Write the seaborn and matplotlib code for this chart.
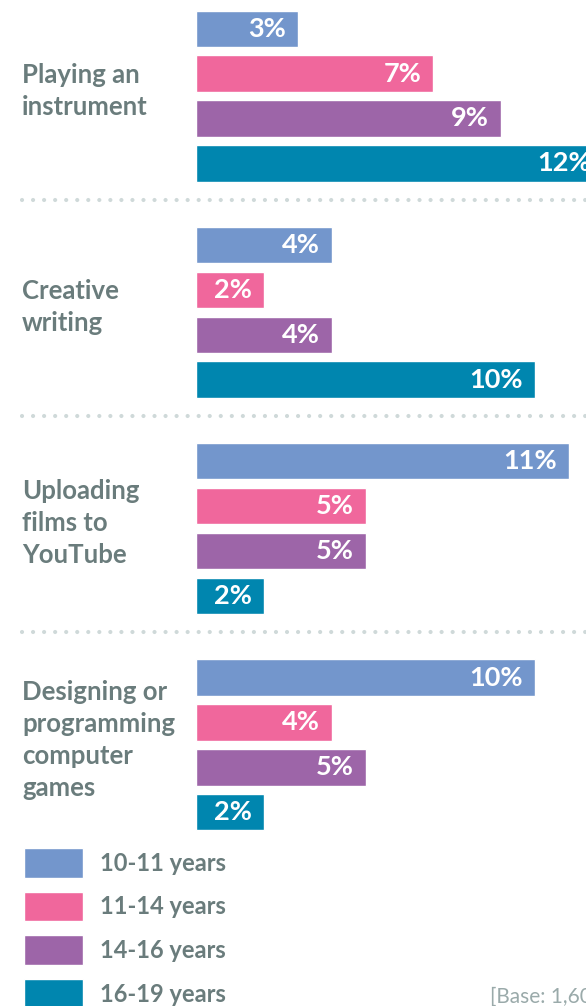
import matplotlib
matplotlib.use("Agg")
import matplotlib.pyplot as plt
import matplotlib.transforms as mtransforms
import seaborn as sns
import pandas as pd

activities = ["Playing an\ninstrument", "Creative\nwriting",
              "Uploading\nfilms to\nYouTube",
              "Designing or\nprogramming\ncomputer\ngames"]
ages = ["10-11 years", "11-14 years", "14-16 years", "16-19 years"]
age_10_11 = [3, 4, 11, 10]
age_11_14 = [7, 2, 5, 4]
age_14_16 = [9, 4, 5, 5]
age_16_19 = [12, 10, 2, 2]
colors = ["#7396CC", "#F0679C", "#9D65A8", "#0086AF"]
base_note = "[Base: 1,600]"

rows = []
for age, vals in zip(ages, [age_10_11, age_11_14, age_14_16, age_16_19]):
    for act, v in zip(activities, vals):
        rows.append({"activity": act, "age": age, "value": v})
df = pd.DataFrame(rows)

sns.set_style("white")
plt.rcParams["font.family"] = ["Lato", "DejaVu Sans"]
grey = "#6A7C7C"

W, H = 586, 1006
fig = plt.figure(figsize=(W / 100, H / 100), dpi=100)
ax = fig.add_axes([196 / W, 0, 1 - 196 / W, 1])

sns.barplot(data=df, x="value", y="activity", hue="age", orient="h",
            order=activities, hue_order=ages, palette=colors,
            saturation=1, width=0.83, gap=0.19, ax=ax)

ax.set_xlim(0, 390 / 33.9)
ax.set_ylim(-0.444 + H / 216.3, -0.444)
ax.set_xticks([])
ax.set_yticks([])
ax.set_xlabel("")
ax.set_ylabel("")
sns.despine(ax=ax, left=True, bottom=True)

# value labels inside the bars
for cont in ax.containers:
    for bar in cont:
        w = bar.get_width()
        ax.annotate(f"{w:g}%", (w, bar.get_y() + bar.get_height() / 2),
                    xytext=(-12, 0), textcoords="offset pixels",
                    ha="right", va="center", color="white",
                    fontsize=19.5, fontweight="bold", annotation_clip=False)

# activity names and dotted separators
trans = mtransforms.blended_transform_factory(fig.transFigure, ax.transData)
for i, act in enumerate(activities):
    ax.text(22 / W, i - 0.025, act, transform=trans, ha="left", va="center",
            fontsize=18.5, fontweight="bold", color=grey, linespacing=1.4)
    if i < len(activities) - 1:
        ax.plot([22 / W, 1.0], [i + 0.48, i + 0.48], transform=trans,
                color="#CFD9D9", lw=3, linestyle=(0, (0.01, 2.64)),
                dash_capstyle="round", clip_on=False)

leg = ax.legend(loc="upper left", bbox_to_anchor=(24 / W, 1 - 848 / H),
                bbox_transform=fig.transFigure, frameon=False,
                fontsize=17, handlelength=2.5, handleheight=1.55,
                labelspacing=0.6, handletextpad=0.7, borderpad=0,
                borderaxespad=0)
for t in leg.get_texts():
    t.set_color(grey)
    t.set_fontweight("bold")

fig.text(490 / W, 1 - 997 / H, base_note, ha="left", va="center",
         fontsize=15, color="#9AAAAA")

fig.savefig("out.png", dpi=100)
